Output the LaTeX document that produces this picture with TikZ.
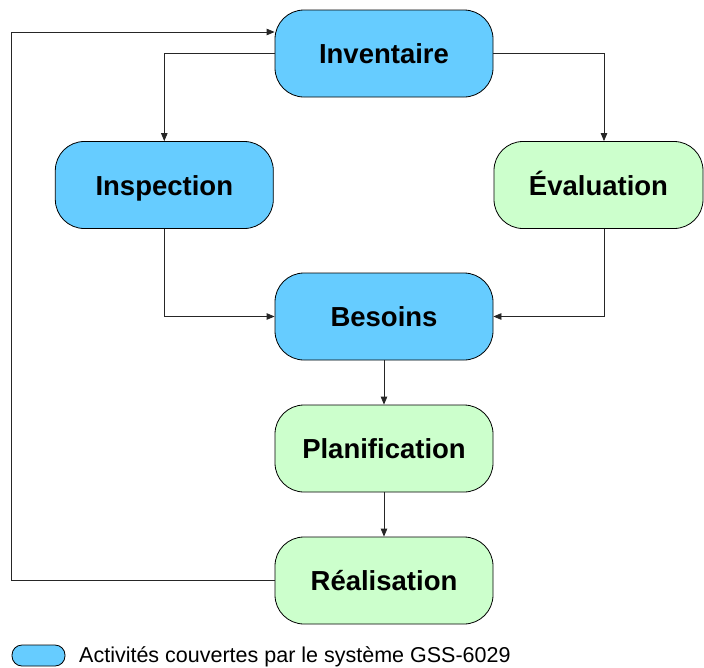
\documentclass[tikz,border=0pt]{standalone}
\usepackage{fontspec}
\setmainfont{Liberation Sans}
\usetikzlibrary{arrows.meta}
\definecolor{actblue}{HTML}{66CCFF}
\definecolor{actgreen}{HTML}{CCFFCC}
\begin{document}
\begin{tikzpicture}[x=1pt,y=-1pt,
  activity/.style={draw=black, line width=0.8pt, rounded corners=29pt,
    minimum width=218pt, minimum height=87pt, inner sep=0pt,
    text height=20pt, text depth=0pt,
    font=\fontsize{27.5}{30}\selectfont\bfseries},
  covered/.style={activity, fill=actblue},
  other/.style={activity, fill=actgreen},
  link/.style={draw=black!85, line width=0.8pt,
    -{Triangle[length=8pt,width=6.5pt]}},
  plain/.style={draw=black!85, line width=0.8pt}]
\useasboundingbox (0,0) rectangle (704,667);

% activity boxes
\node[covered] (inv)  at (384,53.5)  {Inventaire};
\node[covered] (insp) at (164.3,185) {Inspection};
\node[other, minimum width=209pt] (eval) at (598.5,185) {Évaluation};
\node[covered] (bes)  at (384,316.5) {Besoins};
\node[other]   (plan) at (384,448.5) {Planification};
\node[other]   (real) at (384,580.5) {Réalisation};

% connectors
\draw[link] (inv.west) -| (insp.north);
\draw[link] (inv.east) -| ([xshift=5.5pt]eval.north);
\draw[link] (insp.south) |- (bes.west);
\draw[link] ([xshift=5.5pt]eval.south) |- (bes.east);
\draw[link] (bes.south) -- (plan.north);
\draw[link] (plan.south) -- (real.north);

% feedback loop from the last step back to the inventory
\coordinate (loop) at (11.5,32);
\draw[plain] (real.west) -| (loop);
\draw[link] (loop) -- (loop -| inv.west);

% legend
\node[draw=black, line width=0.8pt, fill=actblue, rounded corners=10pt,
  minimum width=53pt, minimum height=21pt, inner sep=0pt] (key) at (38.5,655.5) {};
\node[anchor=base west, inner sep=0pt, font=\fontsize{21.5}{24}\selectfont] (keytext)
  at (79,662.3) {Activités couvertes par le système GSS-6029};
\end{tikzpicture}
\end{document}
